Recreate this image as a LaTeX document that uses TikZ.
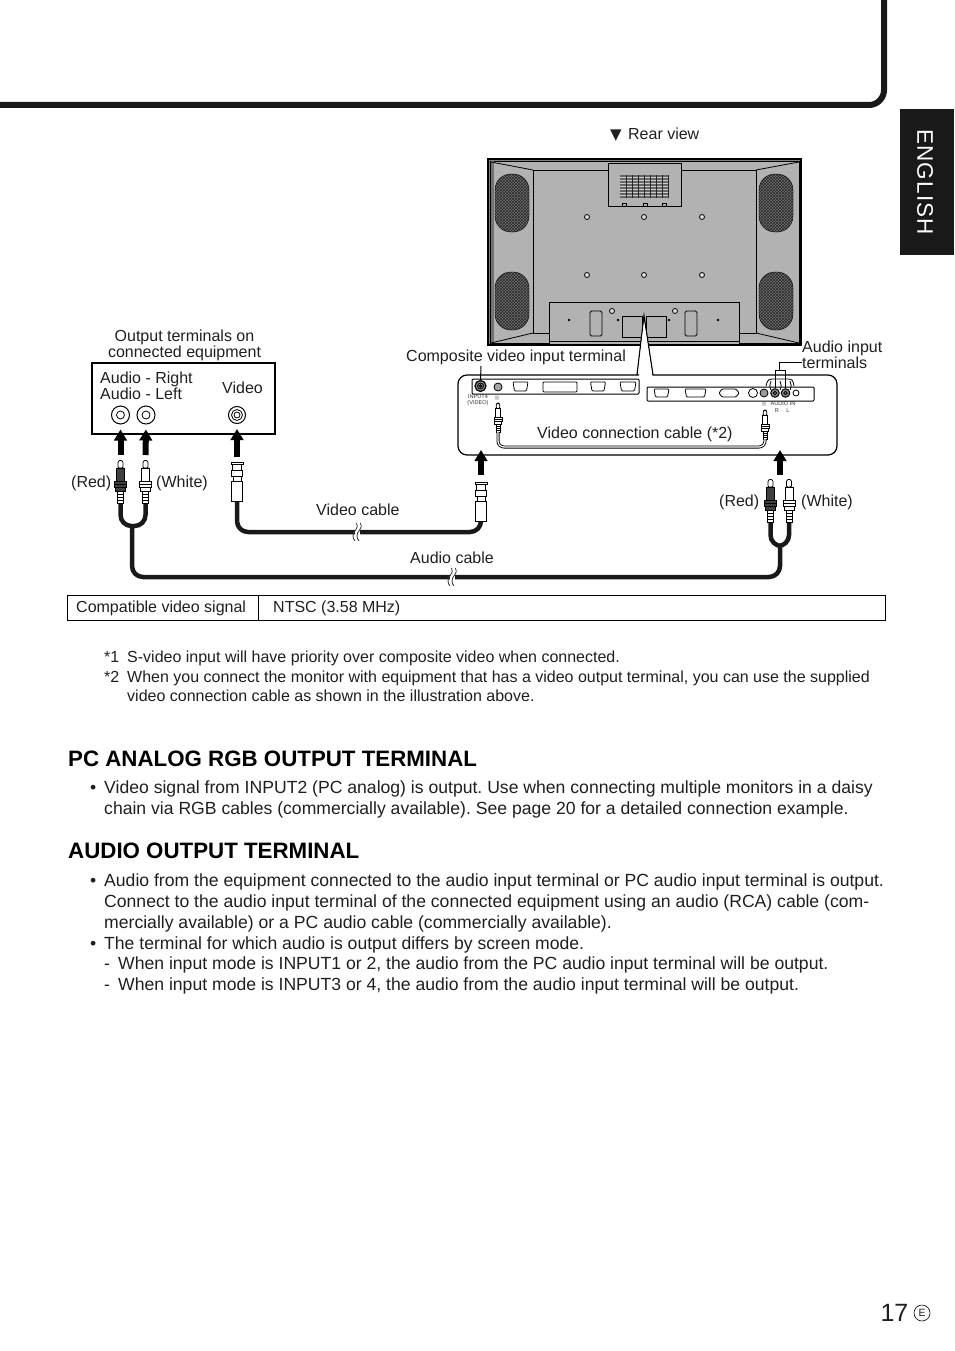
\documentclass[tikz,border=0pt]{standalone}
\usepackage{fontspec}
\setmainfont{Liberation Sans}
\newfontfamily\symfont{DejaVu Sans}
\newfontfamily\kmfont{Noto Sans CJK JP}
\usetikzlibrary{arrows.meta,patterns}

\begin{document}
\begin{tikzpicture}[
  x=1pt, y=-1pt,
  lbl/.style={inner sep=0pt, anchor=west, yshift=-1pt, text=black!88, font=\fontsize{16}{16}\selectfont, align=left},
  foot/.style={inner sep=0pt, anchor=north west, text=black!88, font=\fontsize{16}{19.6}\selectfont\frenchspacing, align=left, execute at begin node=\strut},
  body/.style={inner sep=0pt, anchor=north west, text=black!88, font=\fontsize{17.6}{21}\selectfont\frenchspacing, align=left, execute at begin node=\strut},
  head/.style={inner sep=0pt, anchor=west, text=black, font=\fontsize{22.3}{24}\selectfont\bfseries},
  tiny/.style={inner sep=0pt, text=black!80, font=\fontsize{5.6}{6}\selectfont, align=center},
  term/.style={circle, draw, line width=1pt, fill=white, inner sep=0pt, minimum size=18pt},
  bigar/.style={-{Triangle[length=11pt,width=12.5pt]}, line width=6pt, black},
  cable/.style={line width=4.5pt, black!90, rounded corners=11pt},
  thinc/.style={line width=0.8pt, black},
  spk/.style={rounded corners=16pt, preaction={fill=black!55}, pattern=crosshatch, pattern color=black!85},
  screw/.style={draw, thick, fill=black!12, circle, inner sep=0pt, minimum size=5pt},
  pics/rcaplug/.style={code={
    \coordinate (-top) at (0,0);
    \coordinate (-end) at (0,43);
    \draw[thinc, fill=white, rounded corners=1pt] (-2.5,8)--(-2.5,1.5)--(0,0)--(2.5,1.5)--(2.5,8)--cycle;
    \draw[thinc, fill=#1] (-4,8) rectangle (4,21);
    \draw[thinc, fill=#1] (-6,21) rectangle (6,24);
    \draw[thinc, fill=#1] (-6,24) rectangle (6,27);
    \draw[thinc, fill=#1] (-5,27) rectangle (5,31);
    \draw[thinc, fill=white] (-3,31) rectangle (3,43);
    \foreach \ly in {34,37,40} \draw[line width=1pt] (-3,\ly) -- (3,\ly);
  }},
  pics/bncplug/.style={code={
    \coordinate (-top) at (0,0);
    \coordinate (-end) at (0,39);
    \draw[thinc, fill=white] (-6,0) rectangle (6,2);
    \draw[thinc, fill=white] (-4.5,2) rectangle (4.5,8);
    \draw[thinc, fill=white] (-5.5,8) rectangle (5.5,14);
    \draw[thinc, fill=white] (-4,14) rectangle (4,19);
    \draw[thinc, fill=white] (-5.5,19) rectangle (5.5,39);
  }},
]
\useasboundingbox (0,0) rectangle (954,1351);

% page frame and tab
\draw[line width=6pt, black!90, rounded corners=15pt] (0,105) -- (884,105) -- (884,0);
\fill[black!90] (900,109) rectangle (954,255);
\node[inner sep=0pt, rotate=-90, text=white, font=\fontsize{22.5}{24}\selectfont\addfontfeatures{LetterSpace=5}] (tab) at (925,182) {ENGLISH};

% rear of the monitor
\node[lbl] (rear) at (610,134) {{\symfont\fontsize{15}{15}\selectfont ▼}\hspace{2pt} Rear view};
\draw[line width=1.2pt, fill=black!50] (488,159) rectangle (801,345);
\draw[thinc, fill=black!30] (490.5,161) rectangle (799.5,343);
\fill[black!55] (491,161.5) rectangle (494,342.5);
\draw[thinc] (533,170) rectangle (756,333);
\draw[thinc] (491,162) -- (533,170) (799,162) -- (756,170) (491,343) -- (533,333) (799,343) -- (756,333);
\foreach \sx/\sy in {495/174,495/272,759/174,759/272}
  \draw[spk] (\sx,\sy) rectangle (\sx+34,\sy+58);
\draw[thinc, fill=black!30] (608,163) rectangle (681,206);
\fill[black!60] (620,175) rectangle (668,198);
\foreach \gy in {177,180,...,197} \draw[black!20, line width=0.5pt] (620,\gy) -- (668,\gy);
\foreach \gx in {626,632,...,668} \draw[black!85, line width=0.6pt] (\gx,175) -- (\gx,198);
\foreach \tx in {624,645,664} \draw[thinc] (\tx-2,206) -- (\tx-2,203) -- (\tx+2,203) -- (\tx+2,206);
\foreach \sx in {587,644,702} \foreach \sy in {217,275}
  \node[screw] at (\sx,\sy) {};
\draw[line width=1pt, fill=black!30] (549,302) rectangle (739,341);
\draw[thinc, fill=black!30] (549,341) rectangle (739,344);
\foreach \bx in {569,618,669,718} \fill (\bx,320) circle (1.4pt);
\foreach \bx in {590,685} \draw[thinc, rounded corners=1.5pt] (\bx,311) rectangle (\bx+12,336);
\foreach \bx in {622,646} \draw[thinc] (\bx,316) rectangle (\bx+20,337);
\foreach \bx in {612,675} \node[screw] at (\bx,311) {};

% terminal panel
\draw[line width=1.2pt, fill=white] (637,375) -- (644,316) -- (653,375)
  [rounded corners=9pt] -- (837,375) -- (837,455) -- (458,455) -- (458,375) -- (630,375) [sharp corners] -- (637,375);
\fill[white] (638,374) -- (644,322) -- (652,374) -- cycle;
\draw[line width=1pt, rounded corners=1pt] (472,379) rectangle (639,394);
\draw[line width=1pt, rounded corners=1pt] (647,387) rectangle (814,401);
\foreach \cx/\cw in {520.5/7.5,598/7.5,628/8}
  \draw[thinc, rounded corners=1pt] (\cx-\cw,382) -- (\cx+\cw,382) -- (\cx+\cw-1.5,391) -- (\cx-\cw+1.5,391) -- cycle;
\draw[thinc, rounded corners=1pt] (543,382) rectangle (577,392);
\foreach \cx/\cw in {661.5/7.5,695.5/10.5}
  \draw[thinc, rounded corners=1pt] (\cx-\cw,389) -- (\cx+\cw,389) -- (\cx+\cw-1.5,397) -- (\cx-\cw+1.5,397) -- cycle;
\draw[thinc, rounded corners=1pt] (722,389) -- (736,389) -- (739,393) -- (736,397) -- (722,397) -- (719,393) -- cycle;
\node[circle, draw, fill=black!45, line width=1.2pt, inner sep=0pt, minimum size=11pt] (invideo) at (480.5,386) {};
\draw[thinc] (invideo) circle (3pt) (invideo) circle (1.3pt);
\draw[thinc, fill=black!35] (498,387) circle (4pt);
\draw[thinc, fill=white] (753,393) circle (4.5pt);
\draw[thinc, fill=black!40] (764,393) circle (4pt);
\node[circle, draw, fill=black!45, line width=1pt, inner sep=0pt, minimum size=8.5pt] (inr) at (775,393) {};
\node[circle, draw, fill=black!45, line width=1pt, inner sep=0pt, minimum size=8.5pt] (inl) at (785.5,393) {};
\draw[thinc] (inr) circle (1.8pt) (inl) circle (1.8pt);
\draw[thinc, fill=white] (796,393) circle (3pt);
\draw[thinc] (766,386) .. controls (767,380) and (769,379) .. (773,379) -- (788,379) .. controls (792,379) and (793,380) .. (794,386);
\draw[thinc] (771,390) .. controls (769,386) and (770,384) .. (771,381) (780,390) .. controls (782,386) and (781,384) .. (780,381) (790,390) .. controls (792,386) and (791,384) .. (790,381);
\node[tiny] (inlabel) at (478,400) {INPUT4\\(VIDEO)};
\node[tiny, font=\kmfont\fontsize{6}{6}\selectfont] (kmleft) at (497,398) {※};
\node[tiny, font=\kmfont\fontsize{6}{6}\selectfont] (kmright) at (764,404.5) {※};
\node[tiny] (audioin) at (783,404) {AUDIO IN};
\node[tiny] (audr) at (777,411) {R};
\node[tiny] (audl) at (788,411) {L};

% video connection cable
\pic (vleft) at (498,403) [scale=.68] {rcaplug=white};
\pic (vright) at (765,410) [scale=.68] {rcaplug=white};
\draw[line width=3pt, black, rounded corners=6pt] (vleft-end) -- (498,447) -- (765,447) -- (vright-end);
\draw[line width=1.2pt, white, rounded corners=6pt] (vleft-end) -- (498,447) -- (765,447) -- (vright-end);

% leader lines
\node[lbl] (complabel) at (406,356) {Composite video input terminal};
\coordinate (compend) at (481,366);
\draw[line width=1pt] (compend) -- (invideo.north);
\node[lbl] (audiolabel) at (802,354) {Audio input\\terminals};
\draw[line width=1pt] (802,362) -- (779,362) -- (779,370);
\draw[line width=1pt] (inr.north) -- (775,370) -- (785.5,370) -- (inl.north);
\node[lbl] (vcclabel) at (537,433) {Video connection cable (*2)};

% connected equipment
\node[lbl, anchor=center, align=center] (eqlabel) at (184.5,344) {Output terminals on\\connected equipment};
\draw[line width=1.6pt] (92,363) rectangle (275,434);
\node[lbl] (eqaudio) at (100,385) {Audio - Right\\Audio - Left};
\node[lbl] (eqvideo) at (222,387) {Video};
\node[term] (termr) at (120.5,415) {};
\node[term] (terml) at (146,415) {};
\node[term, minimum size=17pt] (termv) at (237,415) {};
\draw[thinc] (termr) circle (4pt) (terml) circle (4pt);
\draw[thinc] (termv) circle (5.5pt) (termv) circle (3pt);

% plugs and cables
\coordinate (lvbend) at (237,532);
\coordinate (rvbend) at (481,532);
\coordinate (lajoin) at (132,526);
\coordinate (rajoin) at (780,546);
\draw[cable] (237,495) -- (lvbend) -- (rvbend) -- (481,515);
\draw[cable] (120.5,495) -- (120.5,526) -- (145.5,526) -- (145.5,495);
\draw[cable] (770.5,515) -- (770.5,546) -- (789,546) -- (789,515);
\draw[cable] (lajoin) -- (132,577) -- (780,577) -- (rajoin);
\pic (lred) at (120.5,460) {rcaplug=black!75};
\pic (lwhite) at (145.5,460) {rcaplug=white};
\pic (lbnc) at (237,462) {bncplug};
\pic (rbnc) at (481,482) {bncplug};
\pic (rred) at (770.5,479) {rcaplug=black!75};
\pic (rwhite) at (789,479) {rcaplug=white};
\coordinate (panelv) at (481,450);
\coordinate (panela) at (780,450);
\draw[bigar, shorten <=5pt, shorten >=5pt] (lred-top) -- (termr.south);
\draw[bigar, shorten <=5pt, shorten >=5pt] (lwhite-top) -- (terml.south);
\draw[bigar, shorten <=5pt, shorten >=5pt] (lbnc-top) -- (termv.south);
\draw[bigar, shorten <=7pt] (rbnc-top) -- (panelv);
\draw[bigar, shorten <=4pt] (780,479) -- (panela);

% cable breaks
\foreach \bx/\by in {357/532,452/577} {
  \fill[white] (\bx-2.5,\by-4) rectangle (\bx+2.5,\by+4);
  \draw[thinc, black!80] (\bx-.5,\by-9) .. controls (\bx+3,\by-4) and (\bx-5,\by) .. (\bx-4,\by+4) .. controls (\bx-4,\by+6) and (\bx-3,\by+8) .. (\bx-2,\by+9);
  \draw[thinc, black!80] (\bx+3.5,\by-9) .. controls (\bx+7,\by-4) and (\bx-1,\by) .. (\bx,\by+4) .. controls (\bx,\by+6) and (\bx+1,\by+8) .. (\bx+2,\by+9);
}

% cable labels
\node[lbl] (lredlbl) at (71,482) {(Red)};
\node[lbl] (lwhitelbl) at (156,482) {(White)};
\node[lbl] (vclbl) at (316,509) {Video cable};
\node[lbl] (aclbl) at (410,556.5) {Audio cable};
\node[lbl] (rredlbl) at (719,501) {(Red)};
\node[lbl] (rwhitelbl) at (801,501) {(White)};

% signal table
\draw[line width=0.8pt] (67.5,595.5) rectangle (885.5,620.5);
\draw[line width=0.8pt] (258.5,595.5) -- (258.5,620.5);
\node[lbl] (sigkey) at (76,607) {Compatible video signal};
\node[lbl] (sigval) at (273,607) {NTSC (3.58 MHz)};

% notes
\node[foot] (note1a) at (104,648.5) {*1};
\node[foot] (note1) at (127,648.5) {S-video input will have priority over composite video when connected.};
\node[foot] (note2a) at (104,668.2) {*2};
\node[foot] (note2) at (127,670.2) {When you connect the monitor with equipment that has a video output terminal, you can use the supplied\\video connection cable as shown in the illustration above.};

% sections
\node[head] (pchead) at (68,759) {PC ANALOG RGB OUTPUT TERMINAL};
\node[body] (bul1) at (90,778.3) {•};
\node[body] (pctext) at (104,780.3) {Video signal from INPUT2 (PC analog) is output. Use when connecting multiple monitors in a daisy\\chain via RGB cables (commercially available). See page 20 for a detailed connection example.};
\node[head] (audhead) at (68,851) {AUDIO OUTPUT TERMINAL};
\node[body] (bul2) at (90,871.3) {•};
\node[body] (audtext) at (104,873.1) {Audio from the equipment connected to the audio input terminal or PC audio input terminal is output.\\Connect to the audio input terminal of the connected equipment using an audio (RCA) cable (com-\\mercially available) or a PC audio cable (commercially available).\\The terminal for which audio is output differs by screen mode.};
\node[body] (bul3) at (90,934.3) {•};
\node[body] (dash1) at (104,954.3) {-};
\node[body] (dash2) at (104,975.3) {-};
\node[body] (mode1) at (118,954.3) {When input mode is INPUT1 or 2, the audio from the PC audio input terminal will be output.};
\node[body] (mode2) at (118,975.3) {When input mode is INPUT3 or 4, the audio from the audio input terminal will be output.};

% page number
\node[inner sep=0pt, anchor=east, text=black!88, font=\fontsize{25}{25}\selectfont] (pageno) at (908.5,1313) {17};
\node[circle, draw, line width=0.6pt, inner sep=0pt, minimum size=16pt, text=black!88, font=\fontsize{10.5}{11}\selectfont] (pagee) at (922,1313) {E};
\end{tikzpicture}
\end{document}
